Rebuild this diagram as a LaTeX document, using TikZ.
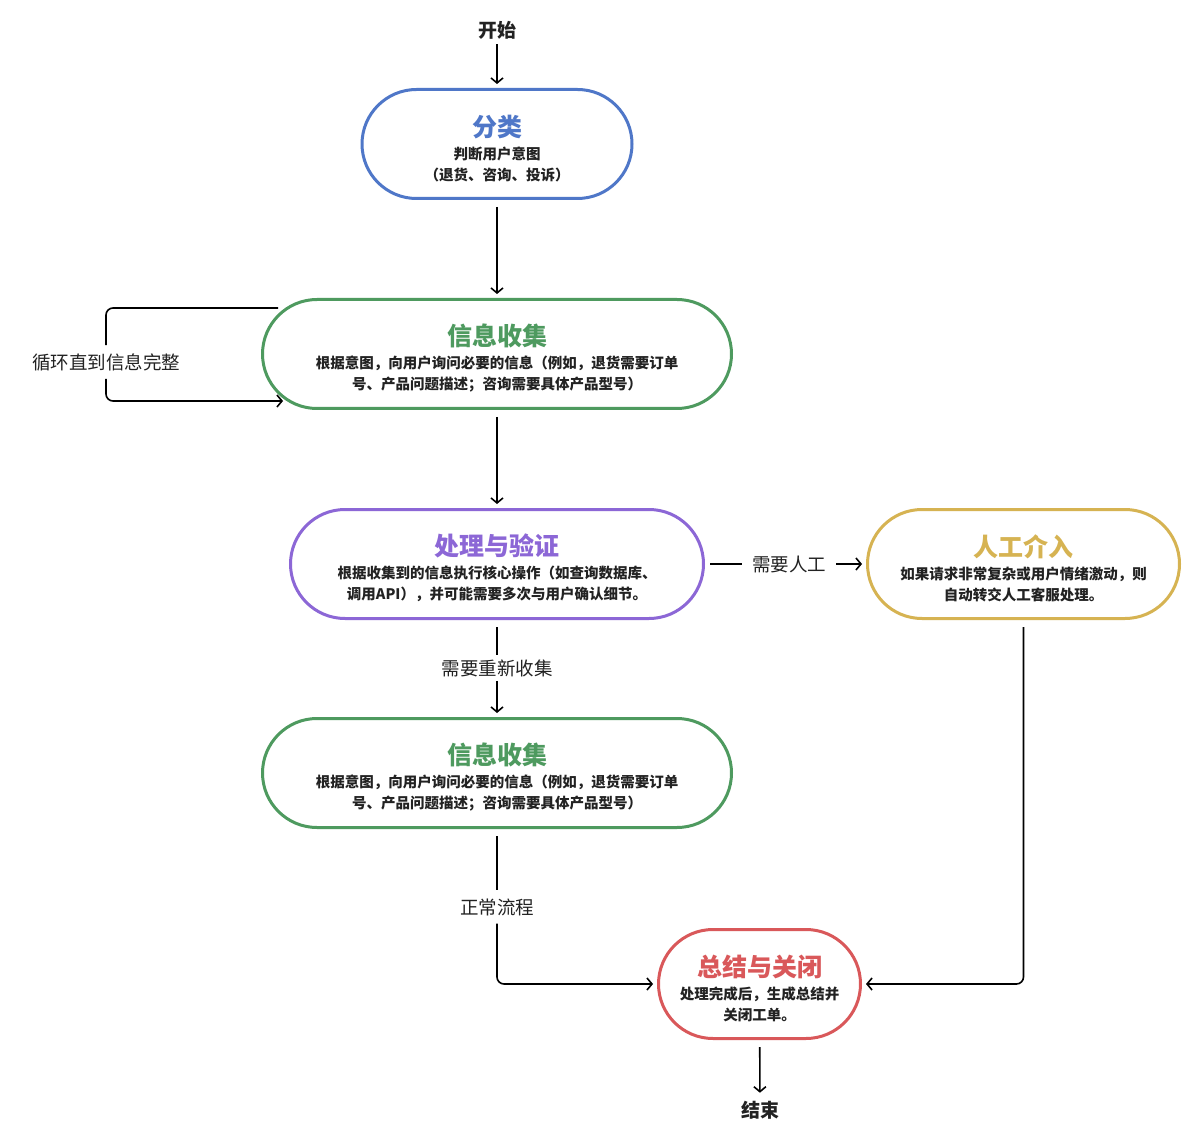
\documentclass[tikz,border=0pt]{standalone}
\usepackage{fontspec}
\setmainfont{Noto Sans CJK SC}
\usepackage{xcolor}
\usetikzlibrary{calc,positioning,arrows.meta}

\definecolor{clsblue}{HTML}{4F77C8}
\definecolor{colgreen}{HTML}{4E9A5F}
\definecolor{procpurple}{HTML}{8C67D6}
\definecolor{humangold}{HTML}{D6B352}
\definecolor{sumred}{HTML}{D9585A}
\definecolor{bodyink}{HTML}{222222}

\newcommand{\titlefont}{\fontsize{25}{29}\selectfont\bfseries\rule{0pt}{30pt}}
\newcommand{\bodyfont}{\fontsize{14.5}{21}\selectfont\bfseries}
\newcommand{\lblfont}{\fontsize{18.5}{22}\selectfont}

\tikzset{
  stadium/.style={draw=#1, line width=3pt, rounded corners=54.5pt, minimum height=109pt,
    inner sep=0pt, align=center, font=\bodyfont, text=bodyink},
  arr/.style={-{Straight Barb[length=5pt,width=12pt]}, line width=1.6pt},
  wire/.style={line width=1.6pt},
  lbl/.style={font=\lblfont, text=bodyink, inner xsep=10pt, inner ysep=8pt, fill=white},
  term/.style={font=\fontsize{19}{22}\selectfont\bfseries, text=bodyink, inner sep=5pt}
}

\begin{document}
\begin{tikzpicture}[x=1pt,y=-1pt]
    \fill[white] (0,0) rectangle (1197,1139);
    \useasboundingbox (0,0) rectangle (1197,1139);

    % steps
    \node[term] (start) at (497,30) {开始};
    \node[stadium=clsblue, minimum width=270pt] (cls) at (497,144)
        {{\titlefont\color{clsblue}分类}\\[2pt]判断用户意图\\（退货、咨询、投诉）};
    \node[stadium=colgreen, minimum width=469pt] (col1) at (497,354)
        {{\titlefont\color{colgreen}信息收集}\\[2pt]根据意图，向用户询问必要的信息（例如，退货需要订单\\号、产品问题描述；咨询需要具体产品型号）};
    \node[stadium=procpurple, minimum width=413pt] (proc) at (497,564)
        {{\titlefont\color{procpurple}处理与验证}\\[2pt]根据收集到的信息执行核心操作（如查询数据库、\\调用API），并可能需要多次与用户确认细节。};
    \node[stadium=humangold, minimum width=312pt] (human) at (1023.5,564)
        {{\titlefont\color{humangold}人工介入}\\[2pt]如果请求非常复杂或用户情绪激动，则\\自动转交人工客服处理。};
    \node[stadium=colgreen, minimum width=469pt] (col2) at (497,773)
        {{\titlefont\color{colgreen}信息收集}\\[2pt]根据意图，向用户询问必要的信息（例如，退货需要订单\\号、产品问题描述；咨询需要具体产品型号）};
    \node[stadium=sumred, minimum width=202pt] (sum) at (759.5,984)
        {{\titlefont\color{sumred}总结与关闭}\\[2pt]处理完成后，生成总结并\\关闭工单。};
    \node[term] (finish) at (760,1110) {结束};

    % edge labels
    \node[lbl] (looplbl) at (106,362) {循环直到信息完整};
    \node[lbl] (humanlbl) at (789,564) {需要人工};
    \node[lbl, inner ysep=4pt] (againlbl) at (497,668) {需要重新收集};
    \node[lbl] (normlbl) at (497,907) {正常流程};

    \coordinate (loopout) at ($(col1.west)+(17,-46)$);
    \coordinate (loopin) at ($(col1.west)+(22,47)$);

    % connectors
    \draw[arr, shorten >=4pt] (start) -- (cls);
    \draw[arr, shorten <=7pt, shorten >=4pt] (cls) -- (col1);
    \draw[wire, rounded corners=7pt] (loopout) -| (looplbl);
    \draw[arr, rounded corners=7pt] (looplbl) |- (loopin);
    \draw[arr, shorten <=7pt, shorten >=4pt] (col1) -- (proc);
    \draw[wire, shorten <=5pt] (proc) -- (humanlbl);
    \draw[arr, shorten >=4pt] (humanlbl) -- (human);
    \draw[wire, shorten <=7pt] (proc) -- (againlbl);
    \draw[arr, shorten >=4pt] (againlbl) -- (col2);
    \draw[wire, shorten <=7pt] (col2) -- (normlbl);
    \draw[arr, rounded corners=7pt, shorten >=4pt] (normlbl) |- (sum.west);
    \draw[arr, rounded corners=7pt, shorten <=7pt, shorten >=4pt] (human.south) |- (sum.east);
    \draw[arr, shorten <=7pt, shorten >=3pt] (sum) -- (finish);
\end{tikzpicture}
\end{document}
